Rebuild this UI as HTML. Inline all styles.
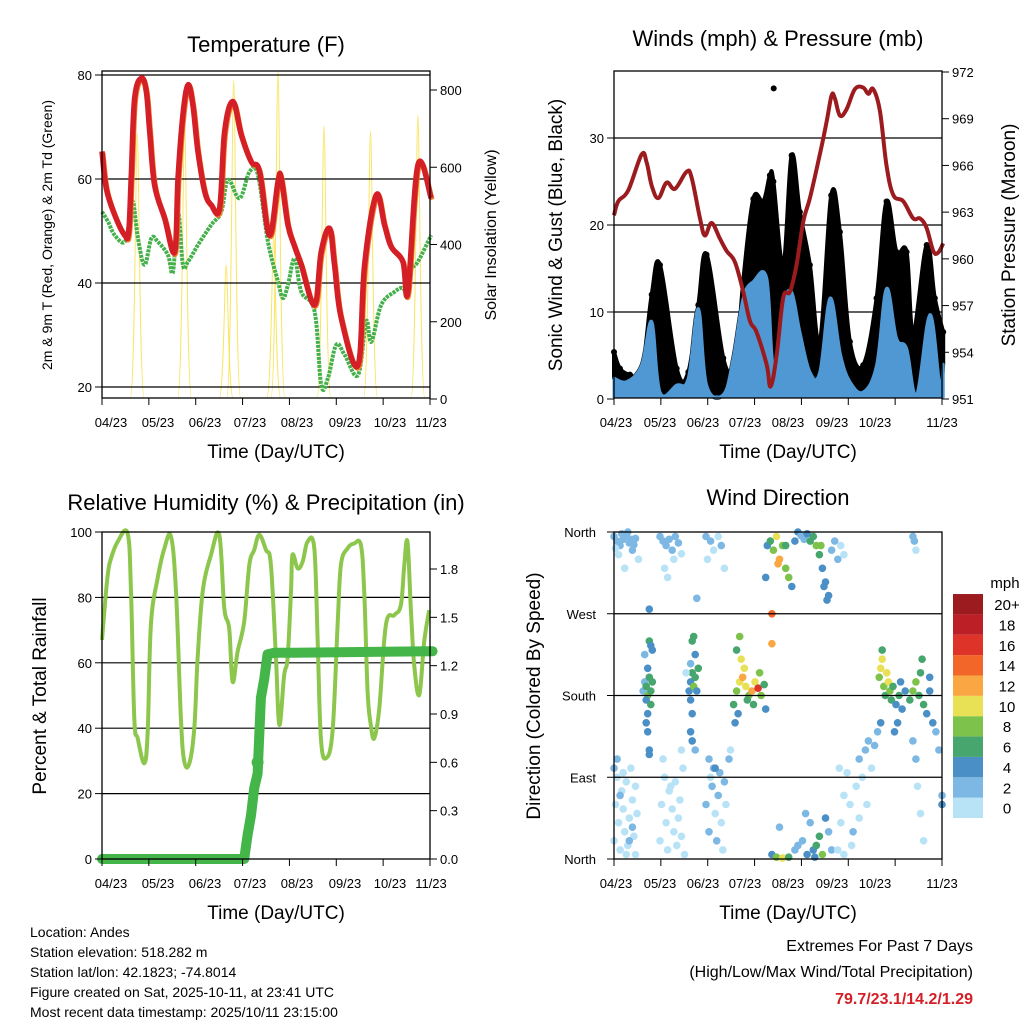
<!DOCTYPE html>
<html><head><meta charset="utf-8"><style>
html,body{margin:0;padding:0;background:#fff;}
svg text{font-family:"Liberation Sans",sans-serif;fill:#000;}
</style></head><body>
<svg id="c" width="1024" height="1024" viewBox="0 0 1024 1024" xmlns="http://www.w3.org/2000/svg"></svg>
<script>
// ---------- DATA ----------
const xTickLabels = ["04/23","05/23","06/23","07/23","08/23","09/23","10/23","11/23"];
const tempDays = [0,2.8,8.3,14.8,17.4,19.1,21.3,25.7,28.9,31.1,34.3,40.9,47.4,49.6,52.8,56.1,59.3,62.6,67,71.3,76.7,80,85.4,90.9,97.4,102.8,109.3,114.8,117,121.3,125.7,130,138.7,143,148.5,151.7,156.1,167,171.3,178.9,184.3,188.7,196.3,199.6,206.1,214.8];
const tempVals = [65.3,58.2,53.1,49.2,49.9,60.8,75.5,79.4,76.8,69.1,58.8,52.4,46,60.1,72.3,78.1,74.2,65.3,57.6,55,54.4,69.1,74.9,68.5,63.3,61.4,49.2,59.5,60.1,51.2,47,43.5,35.8,46,50.5,43.5,33.2,24.2,43.5,56.9,51.2,47,44.1,38.3,62.7,56.3];
const dewDays = [0,3.9,8.3,14.8,18,20.2,23.5,27.8,32.2,36.5,43,46.3,49.6,52.8,56.1,62.6,71.3,77.8,82.2,89.8,96.3,101.7,108.3,114.8,118,121.3,125.7,130,138.7,143,147.4,152.8,158.3,167,172.4,175.7,182.2,190.9,196.3,199.6,200.7,206.1,214.8];
const dewVals = [53.7,51.8,49.2,47.9,52.4,55.6,48.6,43.5,48.6,47.9,45.4,42.2,53.7,43.5,44.1,47.3,51.2,53.7,59.8,56.3,61.4,60.8,47.9,40.3,37.1,39.6,44.7,38.3,34.5,20.4,21.7,28.1,26.2,22.3,32.6,28.7,35.8,38.3,39,37.1,42.2,44.1,49.2];
const solarDays = [23,53.9,81,85.9,112,114.8,144.8,175.2,206.1];
const solarPeaks = [688,710,347,825,420,848,706,693,735];
const presDays = [0,2.8,9.3,18,21.3,24.6,28.9,34.3,39.8,47.4,50.7,56.1,59.3,63.7,69.1,73.5,78.9,84.3,88.7,93,99.6,102.2,106.1,110.4,114.8,119.1,123.5,127.8,134.3,138.7,142,144.1,147.4,151.7,157.2,162.6,165.9,169.1,173.5,177.8,182.2,188.7,195.2,199.6,203.9,208.3,211.5,214.8];
const presVals = [962.8,963.7,964.4,966.7,966.2,964.7,963.9,964.9,964.5,965.6,965.2,962.6,961.5,962.3,961.3,960.5,959.8,957.9,956,955.3,953.2,951.8,953.8,957.5,957.9,959.6,962.4,963.9,966.7,968.8,970.5,970.3,969.2,969.6,970.9,971,970.6,970.9,969.5,966,964.1,963.7,962.6,962.6,962,960.5,960.4,961];
const gustDays = [0,3.9,10.4,18,24.6,30,40.9,48.5,55,60.4,71.3,77.8,80,84.3,90.9,97.4,101.7,104,110.4,115.9,121.3,127.8,134.3,141.7,147.4,153.9,162.6,171.3,177.8,184.3,190.9,195.2,204,209.3,214.8];
const gustVals = [5.4,3.5,2.8,3,12,15.4,3.5,3.1,10.8,16.6,4.7,3.1,3.9,13.5,23,22.7,25.7,25,15.4,28,21.5,15.4,6.6,23.4,19.2,6.6,3.9,11.6,22.7,16.9,16.9,7.7,17.7,11.6,7.7];
const windDays = [0,8.3,18,24.6,30,40.9,48.5,55,60.4,71.3,77.8,84.3,90.9,99.6,104,110.4,115.9,121.3,127.8,134.3,141,147.8,153.9,162.6,171.3,177.8,184.3,190.9,197.4,206.1,212.6,214.8];
const windVals = [2.4,2,3.9,8.9,0.8,1.6,2.4,10.4,1.6,0.5,4.7,11.6,13.5,13.9,3.9,10.8,12.3,7.7,3.1,3.1,11.6,5.1,2,0.8,3.9,12.7,7,5.8,0.5,9.7,1.6,4];
const peakGustDay = [104.2];
const peakGustVal = [35.7];
const rhDays = [0,1.5,3.7,5.9,10.2,16.7,18.9,21.1,23.3,27.6,29.8,31.9,36.3,40.7,45,48.3,51.5,53.7,57,60.2,62.4,65.7,71.1,76.5,79.8,83,85.2,88.5,92.8,96.1,99.3,102.6,107,110.2,113.5,115.7,118.9,121.1,123.3,124.3,127.6,130.9,134.1,138.5,140.7,142.8,146.1,150.4,153.7,155.9,160.2,164.6,168.9,171.1,173.3,175.4,177.6,180.9,185.2,190.7,195,197.2,199.3,201.5,203.7,207,210.2,213.5];
const rhVals = [67,75.6,86.8,91.9,97,99.6,81.8,43,36.9,29.3,38.9,71.6,85.8,95,98.6,81.8,43,29.8,29.3,40,61.4,81.8,93,99.1,76.7,70.5,54.2,63.4,72.6,89.9,94.5,99.1,94.5,89.9,61.4,41,56.3,61.4,81.8,93,88.9,90.9,97,95,66.5,36.9,30.8,38.9,71.6,89.9,95,96.5,96,81.8,51.2,41,36.9,46.1,71.6,74.6,77.7,89.9,97,76.7,59.3,50.2,66.5,76.1];
const precDays = [0,92.8,95,97.2,99.3,101.5,103.7,105.9,108,112.4,125.4,215.7];
const precVals = [0,0,0.15,0.27,0.44,0.53,1.0,1.12,1.27,1.28,1.28,1.29];
const precGapDay = [101.5];
const precGapVal = [0.6];
const wdDay = [0,2,4,6,8,10,12,14,3,7,16,9,1,5,11,13, 0,1,2,3,4,5,6,7,8,9,10,11,12,13,14,15,2,6,8,12,4,10,0,14, 19,20,21,22,23,24,25,21,22,23,24,20,22,22,23,23,21,24,25, 30,32,34,36,38,40,42,44,33,35,39, 30,31,33,34,35,36,38,39,40,41,42,43,44,45,46,37,32,44, 49,50,51,52,53,54,55,51,52,53,50,51,50,51,50,47,53,23,54, 60,63,65,68,70,72,61, 60,62,63,64,65,66,67,68,69,70,71,72,73,75,76,62,66, 78,80,82,84,86,88,90,92,94,96,98,81,80,82,83,85,87,91,95,99,79,103,103, 100,102,104,106,108,110,112,114,116,118,120,122,124,126,128,130,132,134,136,138,140,142,144,146,148,107,112,135,137,139,150,99, 103,106,110,114,118,120,123,126,128,130,132,134,136,138,140,142,125,108,131, 146,148,150,152,154,156,158,160,162,164,166,168,170,172,174,150,155,160,165,147, 173,174,175,176,177,178,179,180,181,182,184,186,188,190,185,183,175,187, 193,195,197,199,200,201,202,204,206,208,210,212,195,197,198,200,202,214,214,206, 196,197,195];
const wdDir = [355,350,345,352,356,348,340,353,335,320,330,360,342,358,352,346, 20,60,90,40,10,75,55,30,85,15,45,100,65,25,5,50,110,95,5,35,70,20,100,80, 185,195,190,180,200,185,195,175,210,240,235,225,160,140,120,115,150,170,230, 355,350,345,352,340,355,348,336,320,310,330, 20,60,90,40,10,75,55,30,85,15,45,65,25,100,5,80,110,120, 185,195,205,190,200,185,210,240,245,225,175,160,140,130,215,205,120,275,287, 355,350,340,355,345,320,330, 60,30,90,80,100,50,20,70,95,40,10,85,60,110,120,110,100, 170,185,195,200,190,180,185,195,188,180,192,160,230,245,220,210,175,170,205,165,150,270,237, 345,350,340,355,330,345,320,310,300,350,360,356,352,358,350,355,345,335,320,305,290,340,350,330,345,325,345,345,300,285,335,310, 5,2,1,2,10,15,20,5,40,10,15,25,5,45,30,10,50,35,2, 10,40,70,95,60,30,80,110,90,120,130,100,125,140,150,5,15,45,60,100, 200,210,220,190,180,205,195,185,175,190,170,180,165,185,150,140,230,195, 175,185,195,180,205,220,170,160,185,150,140,120,130,110,80,50,20,60,70,200, 350,340,355];
const wdSpd = [2,3,2,3,2,3,2,3,1,1,1,2,1,3,2,2, 1,1,0,0,1,0,1,0,1,0,1,0,0,1,0,0,2,1,1,2,3,2,2,0, 3,2,6,8,6,7,6,4,5,6,5,2,4,4,4,4,4,6,4, 2,3,2,3,2,3,2,1,1,1,1, 0,1,0,1,0,1,0,1,0,1,0,1,0,1,0,1,0,1, 4,5,6,8,7,5,6,6,6,5,4,5,4,4,2,1,3,4,3, 2,2,1,1,3,1,1, 3,2,1,3,3,1,2,2,3,1,0,2,1,2,1,2,4, 6,8,10,12,10,8,12,10,16,8,6,4,6,8,10,11,6,7,9,4,4,14,12, 4,6,8,10,12,8,8,8,4,4,4,3,2,4,6,6,8,6,4,4,4,2,2,2,1,12,6,8,4,4,1,4, 4,8,10,6,3,3,3,4,3,5,7,6,8,4,3,2,2,2,4, 1,1,1,1,1,2,1,2,1,2,2,1,3,3,4,0,0,0,1,1, 9,10,10,8,6,10,10,8,6,6,5,6,4,4,4,4,6,4, 6,8,8,6,6,6,6,5,4,4,3,3,3,2,1,1,0,4,3,4, 3,1,2];
const speedColors = ["#b8e3f7","#7db8e4","#4b8fc7","#47a56e","#7dc34b","#e8e055","#f9a643","#f26629","#dd3328","#bd1f26","#9b1b1f"];
const speedLabels = ["0","2","4","6","8","10","12","14","16","18","20+"];

// ---------- HELPERS ----------
const svg = document.getElementById('c');
const NS = 'http://www.w3.org/2000/svg';
function mk(tag, attrs, parent){const e=document.createElementNS(NS,tag);for(const k in attrs)e.setAttribute(k,attrs[k]);(parent||svg).appendChild(e);return e;}
function txt(s,x,y,size,anchor,parent,extra){const e=mk('text',Object.assign({x:x,y:y,'font-size':size,'text-anchor':anchor||'middle'},extra||{}),parent);e.textContent=s;return e;}
function vtxt(s,x,y,size,parent){const e=mk('text',{x:0,y:0,'font-size':size,'text-anchor':'middle',transform:'translate('+x+','+y+') rotate(-90)'},parent);e.textContent=s;return e;}
const DAYS=214;
function xs(L,R){return d=>L+(R-L)*d/DAYS;}
function ys(lo,hi,B,T){return v=>B-(v-lo)/(hi-lo)*(B-T);}
function pts(days,vals,X,Y){return days.map((d,i)=>[X(d),Y(vals[i])]);}
function smooth(p,start){
  let s=(start||'M')+p[0][0].toFixed(1)+','+p[0][1].toFixed(1);
  const t=0.18;
  for(let i=0;i<p.length-1;i++){
    const p0=p[Math.max(0,i-1)],p1=p[i],p2=p[i+1],p3=p[Math.min(p.length-1,i+2)];
    const c1=[p1[0]+(p2[0]-p0[0])*t,p1[1]+(p2[1]-p0[1])*t];
    const c2=[p2[0]-(p3[0]-p1[0])*t,p2[1]-(p3[1]-p1[1])*t];
    s+='C'+c1[0].toFixed(1)+','+c1[1].toFixed(1)+' '+c2[0].toFixed(1)+','+c2[1].toFixed(1)+' '+p2[0].toFixed(1)+','+p2[1].toFixed(1);
  }
  return s;
}
function pathFrom(days,vals,X,Y){return smooth(pts(days,vals,X,Y));}

function frame(g,L,T,R,B){
  const f=mk('rect',{x:L,y:T,width:R-L,height:B-T,fill:'none',stroke:'#000','stroke-width':1.3},g);
  
  
}
function xAxis(g,L,R,B,labelXs,name){
  for(let i=0;i<8;i++){
    const x=L+(R-L)*i/7;
    const t=mk('line',{x1:x,x2:x,y1:B,y2:B+7,stroke:'#000','stroke-width':1},g);
    
    
    const tl=txt(xTickLabels[i],labelXs[i],B+29,13,'middle',g);
    
    
  }
  const at=txt('Time (Day/UTC)',(L+R)/2+10,B+60,19,'middle',g);
  
  
}
function grid(g,L,R,y){const l=mk('line',{x1:L,x2:R,y1:y,y2:y,stroke:'#000','stroke-width':1.2},g);}
function yTicks(g,x,vals,Y,side,fmt,labelDx){
  vals.forEach(v=>{
    const y=Y(v);
    const t=mk('line',{x1:x,x2:x+(side<0?-7:7),y1:y,y2:y,stroke:'#000','stroke-width':1},g);
    
    
    const l=txt(fmt(v),x+labelDx,y+5,13,side<0?'end':'start',g);
    
    
  });
}
const p1Labels=[111,158,205,250,297,345,390,431];
const p2Labels=[616,660,703,745,788,832,875,942];

// ---------- PANEL 1: TEMPERATURE ----------
(function(){
  const g=mk('g',{});
  const L=102,R=430,T=71,B=398;
  const X=xs(L,R), Y=ys(20,80,387,75), S=ys(0,800,399,90);
  const tt=txt('Temperature (F)',266,52,22,'middle',g);
  solarDays.forEach((d,i)=>{
    const x=X(d),w=7,top=S(solarPeaks[i]);
    const p=mk('path',{d:'M'+(x-w)+','+B+' C'+(x-w/3)+','+B+' '+(x-1.5)+','+top+' '+x+','+top+' C'+(x+1.5)+','+top+' '+(x+w/3)+','+B+' '+(x+w)+','+B,fill:'none',stroke:'#f7e04a','stroke-width':1,opacity:0.85},g);
    
    
  });
  [20,40,60,80].forEach(v=>grid(g,L,R,Y(v)));
  const dp=mk('path',{d:pathFrom(dewDays,dewVals,X,Y),fill:'none',stroke:'#44b04a','stroke-width':4,'stroke-dasharray':'3 1','stroke-linejoin':'round'},g);
  
  const t9=mk('path',{d:pathFrom(tempDays,tempVals,X,Y),fill:'none',stroke:'#f37e2a','stroke-width':5,'stroke-linejoin':'round',transform:'translate(1,1.5)'},g);
  
  const t2=mk('path',{d:pathFrom(tempDays,tempVals,X,Y),fill:'none',stroke:'#d41f26','stroke-width':5.5,'stroke-linejoin':'round'},g);
  
  frame(g,L,T,R,B);
  yTicks(g,L,[20,40,60,80],Y,-1,v=>String(v),-10);
  yTicks(g,R,[0,200,400,600,800],S,1,v=>String(v),10);
  xAxis(g,L,R,B,p1Labels,'temperature-x-axis-title');
  const a=vtxt('2m & 9m T (Red, Orange) & 2m Td (Green)',52,235,14,g);
  const b=vtxt('Solar Insolation (Yellow)',496,235,16,g);
})();

// ---------- PANEL 2: WINDS ----------
(function(){
  const g=mk('g',{});
  const L=614,R=942,T=71,B=398;
  const X=xs(L,R), Y=ys(0,10,399,312), P=ys(951,972,399,72);
  const tt=txt('Winds (mph) & Pressure (mb)',778,46,22,'middle',g);
  [10,20,30].forEach(v=>grid(g,L,R,Y(v)));
  const topPts=pts(gustDays,gustVals,X,Y);
  const botPts=pts(windDays,windVals,X,Y).reverse();
  const gb=mk('path',{d:smooth(topPts)+smooth(botPts,'L')+'Z',fill:'#000',stroke:'#000','stroke-width':4,'stroke-linejoin':'round'},g);
  
  gustDays.forEach((d,i)=>{const c=mk('circle',{cx:X(d),cy:Y(gustVals[i]),r:3,fill:'#000'},g);});
  peakGustDay.forEach((d,i)=>{const c=mk('circle',{cx:X(d),cy:Y(peakGustVal[i]),r:3,fill:'#000'},g);});
  const wp=smooth(pts(windDays,windVals,X,Y))+'L'+X(windDays[windDays.length-1])+','+(B-1)+'L'+X(0)+','+(B-1)+'Z';
  const wa=mk('path',{d:wp,fill:'#4f98d3',stroke:'#4f98d3','stroke-width':3,'stroke-linejoin':'round'},g);
  
  const pr=mk('path',{d:pathFrom(presDays,presVals,X,P),fill:'none',stroke:'#9b1b1f','stroke-width':4,'stroke-linejoin':'round'},g);
  
  frame(g,L,T,R,B);
  yTicks(g,L,[0,10,20,30],Y,-1,v=>String(v),-10);
  yTicks(g,R,[951,954,957,960,963,966,969,972],P,1,v=>String(v),10);
  xAxis(g,L,R,B,p2Labels,'winds-x-axis-title');
  const a=vtxt('Sonic Wind & Gust (Blue, Black)',562,235,19,g);
  const b=vtxt('Station Pressure (Maroon)',1015,235,19,g);
})();

// ---------- PANEL 3: RH & PRECIP ----------
(function(){
  const g=mk('g',{});
  const L=102,R=430,T=532,B=859;
  const X=xs(L,R), Y=ys(0,100,859,532), Pp=ys(0,1.8,859,569);
  const tt=txt('Relative Humidity (%) & Precipitation (in)',266,510,22,'middle',g);
  [20,40,60,80].forEach(v=>grid(g,L,R,Y(v)));
  const rh=mk('path',{d:pathFrom(rhDays,rhVals,X,Y),fill:'none',stroke:'#8dc64c','stroke-width':4,'stroke-linejoin':'round'},g);
  
  const pc=mk('path',{d:'M'+pts(precDays,precVals,X,Pp).map(p=>p[0].toFixed(1)+','+p[1].toFixed(1)).join('L'),fill:'none',stroke:'#44b549','stroke-width':10,'stroke-linecap':'round','stroke-linejoin':'round'},g);
  
  precGapDay.forEach((d,i)=>{const c=mk('circle',{cx:X(d),cy:Pp(precGapVal[i]),r:6,fill:'#44b549'},g);});
  frame(g,L,T,R,B);
  yTicks(g,L,[0,20,40,60,80,100],Y,-1,v=>String(v),-10);
  yTicks(g,R,[0,0.3,0.6,0.9,1.2,1.5,1.8],Pp,1,v=>v.toFixed(1),10);
  xAxis(g,L,R,B,p1Labels,'humidity-x-axis-title');
  const a=vtxt('Percent & Total Rainfall',46,696,19,g);
})();

// ---------- PANEL 4: WIND DIRECTION ----------
(function(){
  const g=mk('g',{});
  const L=614,R=942,T=532,B=859;
  const X=xs(L,R), Y=ys(0,360,859,532);
  const tt=txt('Wind Direction',778,505,22,'middle',g);
  wdDay.forEach((d,i)=>{
    const idx=Math.max(0,Math.min(10,Math.floor(wdSpd[i]/2)));
    const c=mk('circle',{cx:X(d).toFixed(1),cy:Y(wdDir[i]).toFixed(1),r:3.8,fill:speedColors[idx]},g);
    
    
  });
  [90,180,270].forEach(v=>grid(g,L,R,Y(v)));
  frame(g,L,T,R,B);
  const dirLabels=['North','East','South','West','North'];
  [0,90,180,270,360].forEach((v,i)=>{
    const y=Y(v);
    const t=mk('line',{x1:L,x2:L-7,y1:y,y2:y,stroke:'#000'},g);
    const l=txt(dirLabels[i],596,y+5,13,'end',g);
  });
  xAxis(g,L,R,B,p2Labels,'wind-direction-x-axis-title');
  const a=vtxt('Direction (Colored By Speed)',540,696,19,g);
  const cb=mk('g',{},g);
  const mu=txt('mph',1005,588,15,'middle',cb);
  speedColors.forEach((c,i)=>{
    const y=818-(i+1)*20.36;
    const r=mk('rect',{x:953,y:y,width:30,height:20.36,fill:c},cb);
    const l=txt(speedLabels[i],1007,y+16,15,'middle',cb);
  });
})();

// ---------- FOOTER ----------
(function(){
  const g=mk('g',{});
  ['Location: Andes','Station elevation: 518.282 m','Station lat/lon: 42.1823; -74.8014','Figure created on Sat, 2025-10-11, at 23:41 UTC','Most recent data timestamp: 2025/10/11 23:15:00'].forEach((s,i)=>{
    const t=txt(s,30,937+i*20,14,'start',g);
  });
  const h=mk('g',{});
  const a=txt('Extremes For Past 7 Days',973,951,16,'end',h);
  const b=txt('(High/Low/Max Wind/Total Precipitation)',973,977,16,'end',h);
  const c=txt('79.7/23.1/14.2/1.29',973,1004,16,'end',h,{'font-weight':'bold'});c.style.fill='#d41f26';
  
})();
</script>
</body></html>
